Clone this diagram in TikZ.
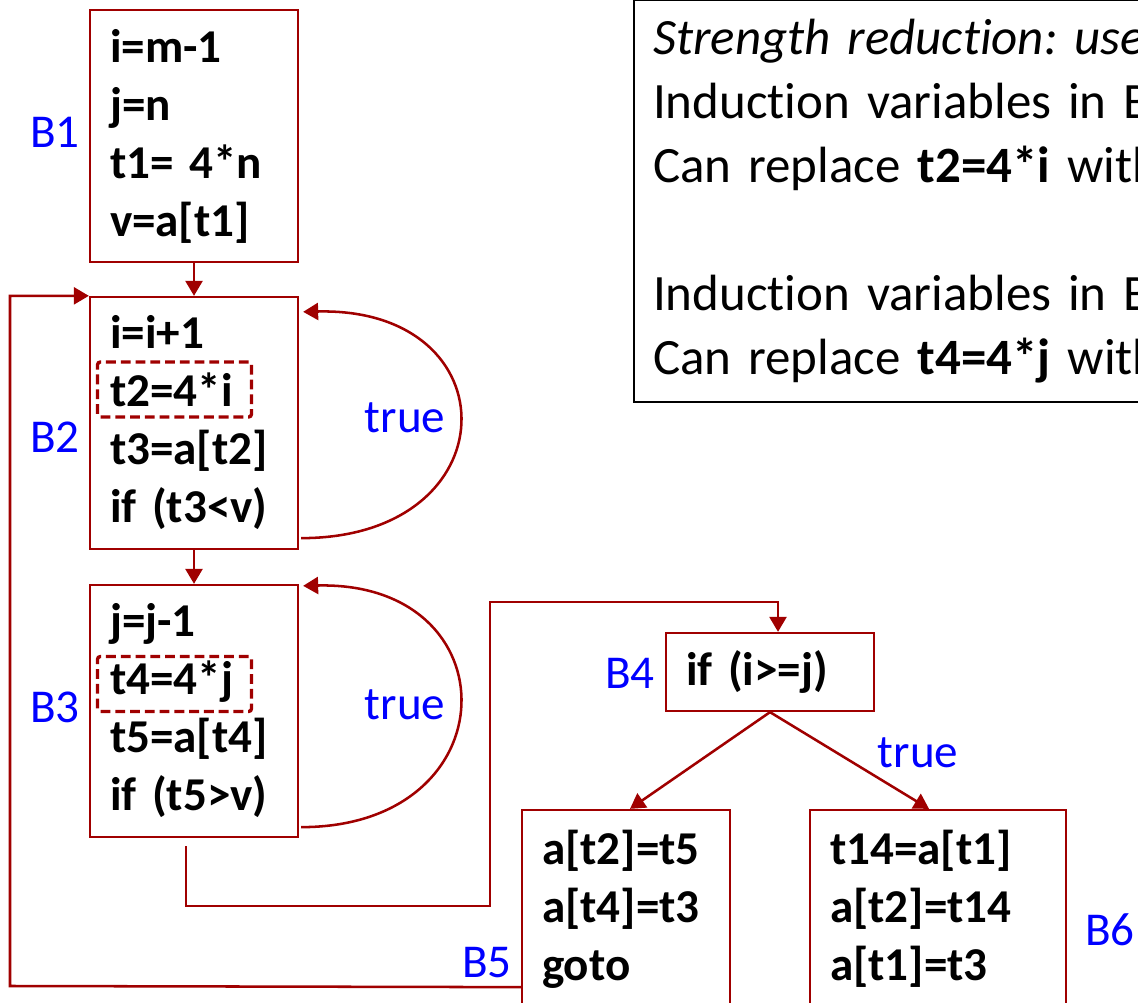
\documentclass[tikz,border=0pt]{standalone}
\usepackage{fontspec}
\setmainfont{Carlito}[Ligatures=NoCommon]
\usetikzlibrary{arrows.meta}

\definecolor{cfgred}{RGB}{160,0,0}
% tighter word spaces, as in the slide font
\newcommand{\tightsp}{\spaceskip=0.16em\relax}

\begin{document}
\frenchspacing
\begin{tikzpicture}[
  font=\fontsize{13.4}{16.5}\selectfont,
  block/.style={draw=cfgred, line width=0.65pt, inner xsep=0.2cm, text width=1.68cm, minimum height=2.52cm, align=left, font=\fontsize{13.4}{16.5}\selectfont\bfseries\tightsp},
  hilite/.style={draw=cfgred, line width=0.95pt, dash pattern=on 2.8pt off 1.4pt, rounded corners=0.8pt, minimum width=1.54cm, minimum height=0.55cm},
  lbl/.style={text=blue},
  note/.style={draw=black, line width=0.6pt, inner sep=0.19cm, text width=6cm, align=left, font=\fontsize{14.5}{18.2}\selectfont\tightsp},
  arrow/.style={-{Triangle[length=0.15cm,width=0.17cm]}, line width=0.72pt, draw=cfgred}
]
\useasboundingbox (0,0) rectangle (11.38,-10.03);
\clip (0,0) rectangle (11.38,-10.03);

% basic blocks
\node[block] (B1) at (1.94,-1.36) {i=m-1\\j=n\\t1= 4*n\\v=a[t1]};
\node[block] (B2) at (1.94,-4.23) {i=i+1\\t2=4*i\\t3=a[t2]\\if (t3<v)};
\node[block] (B3) at (1.94,-7.11) {j=j-1\\t4=4*j\\t5=a[t4]\\if (t5>v)};
\node[block, minimum height=0.78cm] (B4) at (7.70,-6.72) {if (i>=j)};
\node[block, minimum height=1.98cm] (B5) at (6.26,-9.09) {a[t2]=t5\\a[t4]=t3\\goto};
\node[block, minimum height=1.98cm, text width=2.16cm] (B6) at (9.38,-9.09) {t14=a[t1]\\a[t2]=t14\\a[t1]=t3};

% induction variable statements
\node[hilite] (t2box) at (1.745,-3.895) {};
\node[hilite] (t4box) at (1.745,-6.84) {};

% block names
\node[lbl] (n1) at (0.55,-1.32) {B1};
\node[lbl] (n2) at (0.55,-4.37) {B2};
\node[lbl] (n3) at (0.55,-7.07) {B3};
\node[lbl] (n4) at (6.30,-6.73) {B4};
\node[lbl] (n5) at (4.87,-9.63) {B5};
\node[lbl] (n6) at (11.10,-9.30) {B6};

% edges
\draw[arrow] (B1) -- (B2);
\draw[arrow] (B2) -- (B3);
\draw[arrow] ([shift={(0.02,0.12)}]B2.south east) .. controls +(2.1,0) and +(2.1,0.05) .. ([shift={(0.04,-0.16)}]B2.north east);
\node[lbl] (true2) at (4.05,-4.18) {true};
\draw[arrow] ([shift={(0.02,0.11)}]B3.south east) .. controls +(2.1,0) and +(2.1,0.05) .. ([shift={(0.04,-0.02)}]B3.north east);
\node[lbl] (true3) at (4.05,-7.05) {true};

\coordinate (jog) at (4.90,-6.02);
\draw[arrow] ([shift={(-0.08,-0.08)}]B3.south) -- ++(0,-0.6) -| (jog) -| ([xshift=0.08cm]B4.north);
\draw[arrow] (B4.south) -- ([xshift=0.04cm]B5.north);
\draw[arrow] (B4.south) -- ([xshift=-0.09cm]B6.north);
\node[lbl] (true4) at (9.18,-7.53) {true};

\coordinate (back) at (0.10,-9.86);
\draw[arrow] ([yshift=0.22cm]B5.south west) -- (back) |- (B2.north west);

% remark on strength reduction
\node[note, anchor=south west] (sr) at (6.33,-4.03)
  {\textit{Strength reduction: use}\\Induction variables in B\\Can replace \textbf{t2=4*i} with\\~\\Induction variables in B\\Can replace \textbf{t4=4*j} with};

\end{tikzpicture}
\end{document}
